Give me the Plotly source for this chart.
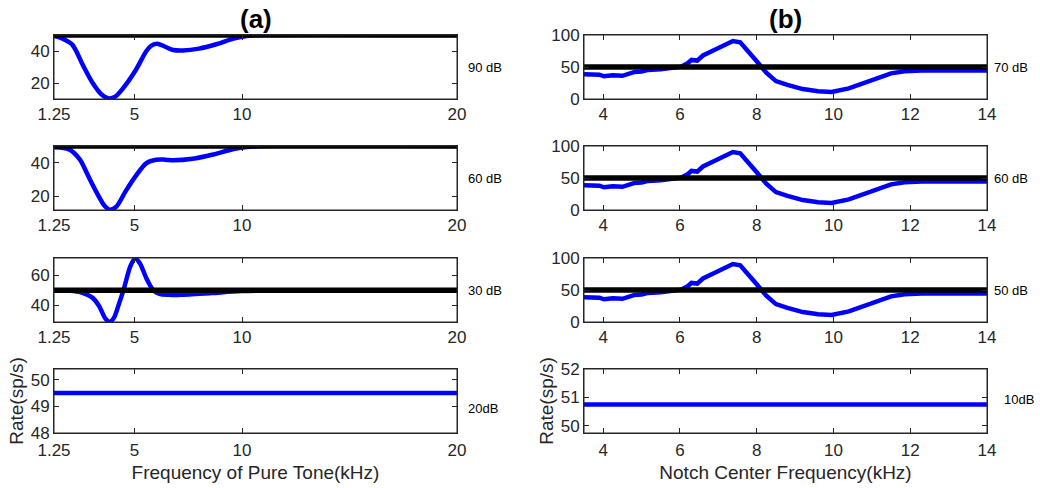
import plotly.graph_objects as go

# ---------------- data ----------------
spont_rate = 50  # spontaneous rate reference (sp/s)

tone_range = [1.25, 20]
notch_range = [3.5, 14]

# (a) pure-tone responses
tone_khz_90 = [1.25, 1.6, 2.1, 2.6, 3.05, 3.45, 3.8, 4.1, 4.45, 5.05, 5.55, 5.8,
               6.05, 6.4, 6.8, 7.25, 8.0, 8.8, 9.6, 10.2, 11.0, 20]
rate_90 = [49.4, 48, 44, 31, 20, 13, 10.4, 11.5, 16.5, 28, 40, 43.5,
           44.6, 42.8, 40.6, 40.3, 41.5, 44.2, 47.7, 49.4, 50, 50]

tone_khz_60 = [1.25, 1.95, 2.45, 2.85, 3.25, 3.6, 3.85, 4.15, 4.6, 5.1, 5.55, 6.0,
               6.4, 6.8, 7.7, 8.6, 9.4, 10.1, 11, 20]
rate_60 = [49.2, 48, 42, 32, 22, 14.5, 12.2, 14, 23.5, 33, 39.8, 41.8,
           41.9, 41.5, 42.4, 44.8, 47.5, 49.2, 50, 50]

tone_khz_30 = [1.25, 2.0, 2.5, 3.05, 3.35, 3.65, 3.85, 4.05, 4.25, 4.5, 4.8, 5.02,
               5.25, 5.55, 5.85, 6.15, 6.6, 7.2, 8.6, 10, 20]
rate_30 = [50, 49.8, 48.7, 45, 39.5, 31, 29, 32, 40, 51, 66, 71.3,
           68, 58, 50.5, 47.6, 47.0, 47.1, 48.2, 49.5, 50]

rate_20 = 49.5

# (b) notch-noise responses (same profile at 70, 60 and 50 dB)
notch_khz = [3.5, 3.9, 4.02, 4.25, 4.5, 4.65, 4.8, 5.0, 5.15, 5.5, 5.85, 6.03,
             6.2, 6.3, 6.45, 6.6, 6.8, 6.96, 7.1, 7.2, 7.38, 7.57, 7.75, 8.0,
             8.25, 8.5, 8.8, 9.2, 9.6, 9.95, 10.4, 10.8, 11.15, 11.5, 11.85,
             12.3, 14]
notch_rate = [38.5, 38, 35.5, 37.2, 36.3, 39, 42, 43, 45.3, 46.5, 48.5, 50.5,
              56, 61, 60, 68, 74, 78.5, 81, 85.5, 90.5, 88.7, 77, 59,
              41, 28, 22, 15.5, 12, 11, 16.5, 25, 33.5, 40, 43.5,
              44.5, 44.5]
rate_10 = 50.75

level_labels_a = ["90 dB", "60 dB", "30 dB", "20dB"]
level_labels_b = ["70 dB", "60 dB", "50 dB", "10dB"]

tone_ticks = [1.25, 5, 10, 20]
tone_ticktext = ["1.25", "5", "10", "20"]
notch_ticks = [4, 6, 8, 10, 12, 14]

y_ranges_a = [[10, 50], [12, 50], [28.9, 71.6], [48, 50.4]]
y_ticks_a = [[20, 40], [20, 40], [40, 60], [48, 49, 50]]
y_ranges_b = [[0, 100], [0, 100], [0, 100], [49.74, 52]]
y_ticks_b = [[0, 50, 100], [0, 50, 100], [0, 50, 100], [50, 51, 52]]

# ---------------- layout geometry (pixels) ----------------
W, H = 1040, 488
col_px = [(54, 457), (584, 987)]
row_px = [(35, 99), (146, 210), (258, 322), (369, 433)]

FONT = "Liberation Sans, Arial, sans-serif"
AX = "#262626"
BLUE = "#0000ff"

fig = go.Figure()

panels = [(c, r) for c in range(2) for r in range(4)]

for k, (c, r) in enumerate(panels):
    sfx = "" if k == 0 else str(k + 1)
    xref, yref = "x" + sfx, "y" + sfx
    if c == 0:
        xr = tone_range
        if r == 0:
            xs, ys = tone_khz_90, rate_90
        elif r == 1:
            xs, ys = tone_khz_60, rate_60
        elif r == 2:
            xs, ys = tone_khz_30, rate_30
        else:
            xs, ys = tone_range, [rate_20, rate_20]
        shape = "spline" if r < 3 else "linear"
        yr, yt = y_ranges_a[r], y_ticks_a[r]
    else:
        xr = notch_range
        if r < 3:
            xs, ys = notch_khz, notch_rate
        else:
            xs, ys = notch_range, [rate_10, rate_10]
        shape = "linear"
        yr, yt = y_ranges_b[r], y_ticks_b[r]

    fig.add_trace(go.Scatter(
        x=xs, y=ys, mode="lines", xaxis=xref, yaxis=yref,
        line=dict(color=BLUE, width=4.5, shape=shape, smoothing=0.8),
        showlegend=False, hoverinfo="skip"))
    if r < 3:
        fig.add_trace(go.Scatter(
            x=xr, y=[spont_rate, spont_rate], mode="lines",
            xaxis=xref, yaxis=yref,
            line=dict(color="black", width=5.5),
            showlegend=False, hoverinfo="skip"))

    x0, x1 = col_px[c]
    y0, y1 = row_px[r]
    common = dict(
        showline=True, linecolor=AX, linewidth=1, mirror="allticks",
        ticks="inside", ticklen=5, tickwidth=1, tickcolor=AX,
        showgrid=False, zeroline=False,
        tickfont=dict(family=FONT, size=17, color=AX),
    )
    xa = dict(common, domain=[x0 / W, x1 / W], anchor=yref, range=xr)
    if c == 0:
        xa.update(tickmode="array", tickvals=tone_ticks, ticktext=tone_ticktext)
    else:
        xa.update(tickmode="array", tickvals=notch_ticks)
    if r == 3:
        xa["ticklabelstandoff"] = 2
    ya = dict(common, domain=[1 - y1 / H, 1 - y0 / H], anchor=xref,
              range=yr, tickmode="array", tickvals=yt)
    if r == 3:
        xa["title"] = dict(
            text="Frequency of Pure Tone(kHz)" if c == 0 else "Notch Center Frequency(kHz)",
            font=dict(family=FONT, size=19, color=AX), standoff=6)
        ya["title"] = dict(text="Rate(sp/s)",
                           font=dict(family=FONT, size=19, color=AX), standoff=2)
    fig.layout["xaxis" + sfx] = xa
    fig.layout["yaxis" + sfx] = ya

    # box around the panel, drawn on top of the curves
    fig.add_shape(type="rect", xref=xref + " domain", yref=yref + " domain",
                  x0=0, x1=1, y0=0, y1=1, layer="above",
                  line=dict(color=AX, width=1), fillcolor="rgba(0,0,0,0)")

    lbl = (level_labels_a if c == 0 else level_labels_b)[r]
    if r < 3:
        ypos = 0.5
    else:
        ypos = 0.38 if c == 0 else 0.52
    fig.add_annotation(
        text=lbl, xref=xref + " domain", yref=yref + " domain",
        x=1.0, y=ypos, xanchor="left", yanchor="middle",
        xshift=9 if c == 0 else (5 if r < 3 else 15),
        showarrow=False, font=dict(family=FONT, size=13, color="black"))

# panel titles
for text, (x0, x1) in zip(["(a)", "(b)"], col_px):
    fig.add_annotation(
        text="<b>%s</b>" % text, xref="paper", yref="paper",
        x=(x0 + x1) / 2 / W, y=1 - 19 / H, xanchor="center", yanchor="middle",
        showarrow=False, font=dict(family=FONT, size=26, color="black"))

fig.update_layout(
    width=W, height=H,
    margin=dict(l=0, r=0, t=0, b=0, pad=0, autoexpand=False),
    paper_bgcolor="white", plot_bgcolor="white",
    font=dict(family=FONT, color=AX),
)

fig.write_html("out.html")
